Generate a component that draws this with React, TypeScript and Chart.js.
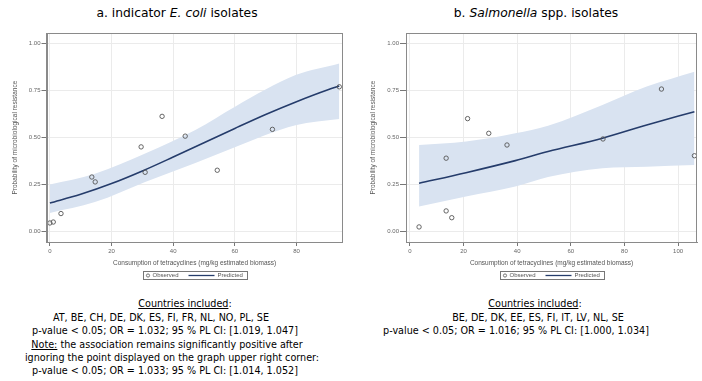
import React, { useEffect, useRef } from "react";
import { Chart, registerables } from "chart.js";

Chart.register(...registerables);

// ---------- Panel a: indicator E. coli ----------
const ecoliObsX = [0.0, 1.1, 3.6, 13.6, 14.7, 29.6, 30.9, 36.4, 43.9, 54.3, 72.2, 93.9];
const ecoliObsY = [0.046, 0.051, 0.096, 0.29, 0.264, 0.45, 0.315, 0.612, 0.507, 0.326, 0.543, 0.769];
const ecoliPredX = [0, 10, 20, 30, 40, 50, 60, 70, 80, 90, 93.9];
const ecoliPredY = [0.152, 0.198, 0.255, 0.322, 0.396, 0.472, 0.548, 0.622, 0.69, 0.752, 0.773];
const ecoliBandX = [0, 14.6, 30.9, 47.2, 60.2, 79.7, 93.9];
const ecoliUpper = [0.25, 0.308, 0.415, 0.539, 0.665, 0.831, 0.893];
const ecoliLower = [0.099, 0.157, 0.264, 0.365, 0.45, 0.565, 0.598];
const ecoliXTicks = [0, 20, 40, 60, 80];

// ---------- Panel b: Salmonella spp. ----------
const salObsX = [3.4, 13.5, 13.5, 15.6, 21.5, 29.4, 36.2, 72.0, 93.8, 106.1];
const salObsY = [0.025, 0.39, 0.11, 0.074, 0.6, 0.522, 0.46, 0.492, 0.757, 0.403];
const salPredX = [3.4, 20.9, 39.3, 51.5, 71.8, 88.3, 106.1];
const salPredY = [0.257, 0.313, 0.377, 0.425, 0.496, 0.566, 0.637];
const salBandX = [3.4, 20.9, 39.3, 51.5, 71.8, 88.3, 106.1];
const salUpper = [0.46, 0.478, 0.522, 0.562, 0.672, 0.77, 0.849];
const salLower = [0.133, 0.186, 0.239, 0.29, 0.337, 0.345, 0.354];
const salXTicks = [0, 20, 40, 60, 80, 100];

const yTicks = [0, 0.25, 0.5, 0.75, 1.0];

const xTitle = "Consumption of tetracyclines (mg/kg estimated biomass)";
const yTitle = "Probability of microbiological resistance";

const CANVAS_H = 290;
const TICK_FONT = { family: "'Liberation Sans', Arial, sans-serif", size: 6 };
const TITLE_FONT = { family: "'Liberation Sans', Arial, sans-serif", size: 6.5 };

const pts = (xs: number[], ys: number[]) => xs.map((x, i) => ({ x, y: ys[i] }));

const framePlugin = {
  id: "frameAndLegend",
  afterDraw(chart: any) {
    const { ctx, chartArea } = chart;
    ctx.save();
    ctx.strokeStyle = "#8a8a8a";
    ctx.lineWidth = 1;
    ctx.strokeRect(
      Math.round(chartArea.left) + 0.5,
      Math.round(chartArea.top) + 0.5,
      Math.round(chartArea.right - chartArea.left) - 1,
      Math.round(chartArea.bottom - chartArea.top)
    );
    // legend box
    const cx = (chartArea.left + chartArea.right) / 2;
    const bx = Math.round(cx - 52) + 0.5;
    const by = 271.5;
    ctx.strokeStyle = "#777";
    ctx.strokeRect(bx, by, 104, 8);
    ctx.font = "6px 'Liberation Sans', Arial, sans-serif";
    ctx.fillStyle = "#555";
    ctx.textBaseline = "middle";
    ctx.textAlign = "left";
    ctx.beginPath();
    ctx.arc(bx + 4.5, by + 4, 1.6, 0, Math.PI * 2);
    ctx.strokeStyle = "#555";
    ctx.lineWidth = 0.8;
    ctx.stroke();
    ctx.fillText("Observed", bx + 9, by + 4.3);
    ctx.beginPath();
    ctx.moveTo(bx + 45, by + 4);
    ctx.lineTo(bx + 71, by + 4);
    ctx.strokeStyle = "#253c6b";
    ctx.lineWidth = 1.3;
    ctx.stroke();
    ctx.fillText("Predicted", bx + 74, by + 4.3);
    ctx.restore();
  },
};

type PanelProps = {
  left: number;
  obsX: number[];
  obsY: number[];
  predX: number[];
  predY: number[];
  bandX: number[];
  upper: number[];
  lower: number[];
  xTicks: number[];
  xMin: number;
  xMax: number;
  yAxisWidth: number;
  yTitlePad: number;
  yTickLen: number;
  padRight: number;
};

function Panel(p: PanelProps) {
  const ref = useRef<HTMLCanvasElement | null>(null);
  useEffect(() => {
    if (!ref.current) return;
    const chart = new Chart(ref.current, {
      type: "scatter",
      data: {
        datasets: [
          {
            label: "Observed",
            data: pts(p.obsX, p.obsY),
            pointStyle: "circle",
            pointRadius: 2.2,
            pointBorderWidth: 0.9,
            pointBorderColor: "#555",
            pointBackgroundColor: "rgba(255,255,255,0)",
            borderColor: "#555",
            backgroundColor: "rgba(255,255,255,0)",
            order: 0,
          } as any,
          {
            label: "Predicted",
            data: pts(p.predX, p.predY),
            showLine: true,
            pointRadius: 0,
            borderColor: "#253c6b",
            borderWidth: 1.6,
            cubicInterpolationMode: "monotone",
            fill: false,
            order: 1,
          } as any,
          {
            label: "upper",
            data: pts(p.bandX, p.upper),
            showLine: true,
            pointRadius: 0,
            borderWidth: 0,
            borderColor: "rgba(0,0,0,0)",
            backgroundColor: "#d9e3f1",
            cubicInterpolationMode: "monotone",
            fill: "+1",
            order: 2,
          } as any,
          {
            label: "lower",
            data: pts(p.bandX, p.lower),
            showLine: true,
            pointRadius: 0,
            borderWidth: 0,
            borderColor: "rgba(0,0,0,0)",
            cubicInterpolationMode: "monotone",
            fill: false,
            order: 3,
          } as any,
        ],
      },
      options: {
        responsive: false,
        animation: false,
        devicePixelRatio: 1,
        layout: { padding: { left: 0, top: 33.3, right: p.padRight, bottom: 0 } },
        plugins: { legend: { display: false }, tooltip: { enabled: false } },
        scales: {
          x: {
            type: "linear",
            min: p.xMin,
            max: p.xMax,
            afterBuildTicks: (s: any) => {
              s.ticks = p.xTicks.map((v) => ({ value: v }));
            },
            afterFit: (s: any) => {
              s.height = 48;
            },
            ticks: {
              font: TICK_FONT,
              color: "#666",
              padding: 1.5,
              maxRotation: 0,
              callback: (v: any) => String(v),
            },
            grid: { color: "#ebebeb", tickColor: "#777", tickLength: 4, lineWidth: 1 },
            border: { display: true, color: "#8a8a8a" },
            title: {
              display: true,
              text: xTitle,
              font: TITLE_FONT,
              color: "#555",
              padding: { top: 0, bottom: 23 },
            },
          },
          y: {
            type: "linear",
            min: -0.055,
            max: 1.053,
            afterBuildTicks: (s: any) => {
              s.ticks = yTicks.map((v) => ({ value: v }));
            },
            afterFit: (s: any) => {
              s.width = p.yAxisWidth;
            },
            ticks: {
              font: TICK_FONT,
              color: "#666",
              padding: 1,
              callback: (v: any) => Number(v).toFixed(2),
            },
            grid: { color: "#ebebeb", tickColor: "#777", tickLength: p.yTickLen, lineWidth: 1 },
            border: { display: true, color: "#8a8a8a" },
            title: {
              display: true,
              text: yTitle,
              font: TITLE_FONT,
              color: "#555",
              padding: { top: p.yTitlePad, bottom: 0 },
            },
          },
        },
      } as any,
      plugins: [framePlugin],
    });
    return () => chart.destroy();
  }, []);
  return (
    <canvas
      ref={ref}
      width={351}
      height={CANVAS_H}
      style={{ position: "absolute", left: p.left, top: 0, width: 351, height: CANVAS_H }}
    />
  );
}

const TEXT_FONT = "'DejaVu Sans Condensed', 'DejaVu Sans', Verdana, sans-serif";
const HEAD_FONT = "'DejaVu Sans', Verdana, sans-serif";

function Line(props: { cx: number; cy: number; children: React.ReactNode; size?: number; family?: string }) {
  const size = props.size ?? 10.7;
  return (
    <div
      style={{
        position: "absolute",
        left: props.cx - 250,
        top: props.cy - 7,
        width: 500,
        height: 14,
        lineHeight: "14px",
        textAlign: "center",
        fontFamily: props.family ?? TEXT_FONT,
        fontSize: size,
        color: "#000",
        whiteSpace: "nowrap",
      }}
    >
      {props.children}
    </div>
  );
}

export default function App() {
  return (
    <div
      style={{
        position: "absolute",
        left: 0,
        top: 0,
        width: 702,
        height: 381,
        background: "#fff",
        overflow: "hidden",
      }}
    >
      <Line cx={177} cy={13} size={12.3} family={HEAD_FONT}>
        a. indicator <i>E. coli</i> isolates
      </Line>
      <Line cx={536} cy={13} size={12.3} family={HEAD_FONT}>
        b. <i>Salmonella</i> spp. isolates
      </Line>
      <Panel
        left={0}
        obsX={ecoliObsX}
        obsY={ecoliObsY}
        predX={ecoliPredX}
        predY={ecoliPredY}
        bandX={ecoliBandX}
        upper={ecoliUpper}
        lower={ecoliLower}
        xTicks={ecoliXTicks}
        xMin={-1.1}
        xMax={95}
        yAxisWidth={46.5}
        yTitlePad={11}
        yTickLen={5}
        padRight={8.3}
      />
      <Panel
        left={351}
        obsX={salObsX}
        obsY={salObsY}
        predX={salPredX}
        predY={salPredY}
        bandX={salBandX}
        upper={salUpper}
        lower={salLower}
        xTicks={salXTicks}
        xMin={-1.47}
        xMax={107.1}
        yAxisWidth={55}
        yTitlePad={18}
        yTickLen={6}
        padRight={1}
      />
      <Line cx={185} cy={304}>
        <u>Countries included</u>:
      </Line>
      <Line cx={161} cy={318}>AT, BE, CH, DE, DK, ES, FI, FR, NL, NO, PL, SE</Line>
      <Line cx={165} cy={331}>p-value &lt; 0.05; OR = 1.032; 95 % PL CI: [1.019, 1.047]</Line>
      <Line cx={167} cy={345}>
        <u>Note:</u> the association remains significantly positive after
      </Line>
      <Line cx={172} cy={358}>ignoring the point displayed on the graph upper right corner:</Line>
      <Line cx={165} cy={371}>p-value &lt; 0.05; OR = 1.033; 95 % PL CI: [1.014, 1.052]</Line>
      <Line cx={535} cy={304}>
        <u>Countries included</u>:
      </Line>
      <Line cx={538} cy={318}>BE, DE, DK, EE, ES, FI, IT, LV, NL, SE</Line>
      <Line cx={516} cy={331}>p-value &lt; 0.05; OR = 1.016; 95 % PL CI: [1.000, 1.034]</Line>
    </div>
  );
}
